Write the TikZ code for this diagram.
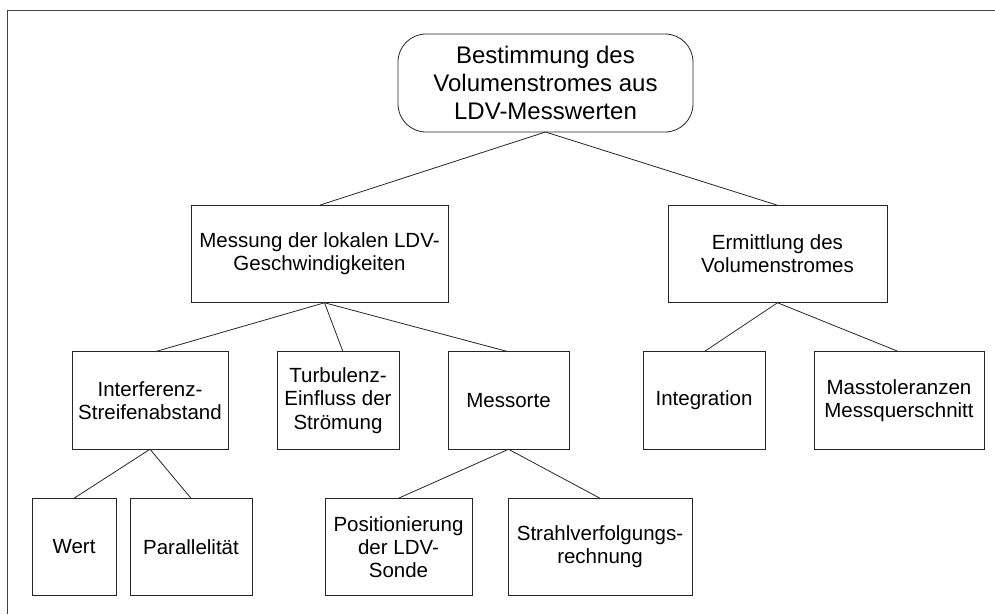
\documentclass[tikz,border=0pt]{standalone}
\usepackage{fontspec}
\setmainfont{Liberation Sans}
\begin{document}
\begin{tikzpicture}[x=1pt,y=-1pt,
  box/.style={draw=black!85,line width=0.8pt,inner sep=0pt,outer sep=0pt,align=center,
    font=\fontsize{20.5}{23.3}\selectfont,minimum height=97.5pt},
  topbox/.style={box,rounded corners=28pt,font=\fontsize{24}{28.4}\selectfont,minimum height=98pt},
  link/.style={draw=black!85,line width=0.8pt}]
\useasboundingbox (0,0) rectangle (995,614);
\draw[black!75,line width=0.8pt] (7,614) -- (7,10) -- (995,10);
% nodes
\node[topbox,minimum width=295pt] (root) at (545.5,83) {Bestimmung des\\Volumenstromes aus\\LDV-Messwerten};
\node[box,minimum width=257pt] (messung) at (319.5,254) {Messung der lokalen LDV-\\Geschwindigkeiten};
\node[box,minimum width=219pt] (ermitt) at (777.5,254) {Ermittlung des\\Volumenstromes};
\node[box,minimum width=156pt] (interf) at (150,400.5) {Interferenz-\\Streifenabstand};
\node[box,minimum width=122pt] (turb) at (338,400.5) {Turbulenz-\\Einfluss der\\Strömung};
\node[box,minimum width=121pt] (messorte) at (508.5,400.5) {Messorte};
\node[box,minimum width=122pt] (integ) at (704,400.5) {Integration};
\node[box,minimum width=170pt] (masstol) at (899,400.5) {Masstoleranzen\\Messquerschnitt};
\node[box,minimum width=84pt] (wert) at (74,547) {Wert};
\node[box,minimum width=122pt] (parall) at (191,547) {Parallelität};
\node[box,minimum width=147pt] (posit) at (398.5,547) {Positionierung\\der LDV-\\Sonde};
\node[box,minimum width=184pt] (strahl) at (600,547) {Strahlverfolgungs-\\rechnung};
% connectors
\draw[link] (root.south) -- (messung.north);
\draw[link] (root.south) -- (ermitt.north);
\draw[link] ([xshift=5pt]messung.south) -- ([xshift=5pt]interf.north);
\draw[link] ([xshift=5pt]messung.south) -- ([xshift=5pt]turb.north);
\draw[link] ([xshift=5pt]messung.south) -- (messorte.north);
\draw[link] (ermitt.south) -- (integ.north);
\draw[link] (ermitt.south) -- (masstol.north);
\draw[link] (interf.south) -- (wert.north);
\draw[link] (interf.south) -- (parall.north);
\draw[link] (messorte.south) -- (posit.north);
\draw[link] (messorte.south) -- (strahl.north);
\end{tikzpicture}
\end{document}
